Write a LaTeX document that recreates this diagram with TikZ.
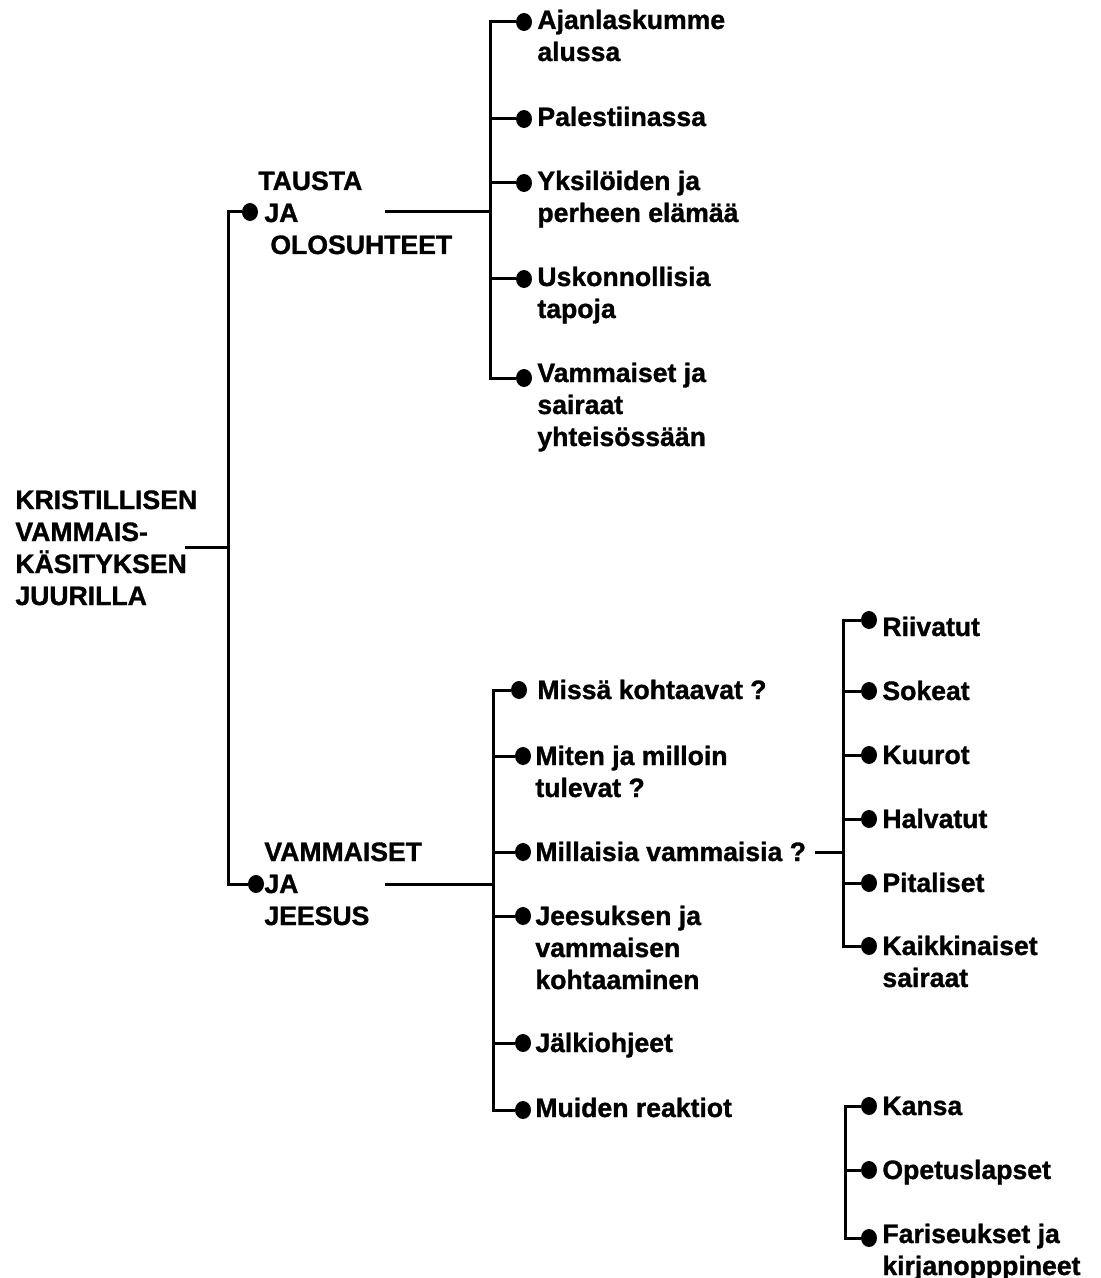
\documentclass[tikz,border=0pt]{standalone}
\usepackage{fontspec}
\setmainfont{Liberation Sans}[BoldFeatures={FakeBold=1.2}]
\usetikzlibrary{shapes.geometric}
\begin{document}
\begin{tikzpicture}[x=0.5pt,y=-0.5pt,
  lbl/.style={font=\bfseries\fontsize{13.3}{16}\selectfont, align=left, anchor=base west, inner sep=0pt},
  dotn/.style={ellipse, fill=black, minimum width=8pt, minimum height=9pt, inner sep=0pt},
  ln/.style={line width=1.5pt}]
\useasboundingbox (0,0) rectangle (1100,1278);

% root (base anchor = baseline of last line)
\node[lbl] (root) at (15,605) {KRISTILLISEN\\VAMMAIS-\\KÄSITYKSEN\\JUURILLA};
\coordinate (rootend) at (185,547);
\coordinate (spmid) at (228,547);
\coordinate (sptop) at (228,212);
\coordinate (spbot) at (228,884);
\draw[ln] (rootend) -- (spmid);

% level 1
\node[dotn] (d1) at (250,212) {};
\node[lbl] (t1) at (258,254) {TAUSTA\\\hspace*{3pt}JA\\\hspace*{6pt}OLOSUHTEET};
\node[dotn] (d2) at (256,884) {};
\node[lbl] (t2) at (264,925) {VAMMAISET\\JA\\JEESUS};
\draw[ln] (d1) -- (sptop) -- (spbot) -- (d2);

% top group
\coordinate (t1end) at (385,212);
\coordinate (ba) at (490,212);
\coordinate (batop) at (490,22);
\coordinate (babot) at (490,378);
\draw[ln] (t1end) -- (ba);
\node[dotn] (a1) at (524,22) {};
\node[lbl] (ta1) at (537,61) {Ajanlaskumme\\alussa};
\node[dotn] (a2) at (524,119) {};
\node[lbl] (ta2) at (537,126) {Palestiinassa};
\node[dotn] (a3) at (524,183) {};
\node[lbl] (ta3) at (537,222) {Yksilöiden ja\\perheen elämää};
\node[dotn] (a4) at (524,279) {};
\node[lbl] (ta4) at (537,318) {Uskonnollisia\\tapoja};
\node[dotn] (a5) at (524,378) {};
\node[lbl] (ta5) at (537,446) {Vammaiset ja\\sairaat\\yhteisössään};
\draw[ln] (a1) -- (batop) -- (babot) -- (a5);
\draw[ln] (490,119) -- (a2);
\draw[ln] (490,183) -- (a3);
\draw[ln] (490,279) -- (a4);

% bottom group
\coordinate (t2end) at (385,884);
\coordinate (bb) at (493,884);
\coordinate (bbtop) at (493,690);
\coordinate (bbbot) at (493,1110);
\draw[ln] (t2end) -- (bb);
\node[dotn] (b1) at (519,690) {};
\node[lbl] (tb1) at (537,699) {Missä kohtaavat ?};
\node[dotn] (b2) at (523,756) {};
\node[lbl] (tb2) at (535,797) {Miten ja milloin\\tulevat ?};
\node[dotn] (b3) at (523,852) {};
\node[lbl] (tb3) at (535,861) {Millaisia vammaisia ?};
\node[dotn] (b4) at (523,916) {};
\node[lbl] (tb4) at (535,989) {Jeesuksen ja\\vammaisen\\kohtaaminen};
\node[dotn] (b5) at (523,1043) {};
\node[lbl] (tb5) at (535,1052) {Jälkiohjeet};
\node[dotn] (b6) at (523,1110) {};
\node[lbl] (tb6) at (535,1117) {Muiden reaktiot};
\draw[ln] (b1) -- (bbtop) -- (bbbot) -- (b6);
\draw[ln] (493,756) -- (b2);
\draw[ln] (493,852) -- (b3);
\draw[ln] (493,916) -- (b4);
\draw[ln] (493,1043) -- (b5);

% right group
\coordinate (tb3end) at (815,852);
\coordinate (bc) at (843,852);
\coordinate (bctop) at (843,620);
\coordinate (bcbot) at (843,946);
\draw[ln] (tb3end) -- (bc);
\node[dotn] (c1) at (869,620) {};
\node[lbl] (tc1) at (882,636) {Riivatut};
\node[dotn] (c2) at (869,691) {};
\node[lbl] (tc2) at (882,700) {Sokeat};
\node[dotn] (c3) at (869,755) {};
\node[lbl] (tc3) at (882,764) {Kuurot};
\node[dotn] (c4) at (869,819) {};
\node[lbl] (tc4) at (882,828) {Halvatut};
\node[dotn] (c5) at (869,883) {};
\node[lbl] (tc5) at (882,892) {Pitaliset};
\node[dotn] (c6) at (869,946) {};
\node[lbl] (tc6) at (882,987) {Kaikkinaiset\\sairaat};
\draw[ln] (c1) -- (bctop) -- (bcbot) -- (c6);
\draw[ln] (843,691) -- (c2);
\draw[ln] (843,755) -- (c3);
\draw[ln] (843,819) -- (c4);
\draw[ln] (843,883) -- (c5);

% lower right group
\coordinate (bdtop) at (845,1106);
\coordinate (bdbot) at (845,1238);
\node[dotn] (e1) at (869,1106) {};
\node[lbl] (te1) at (882,1115) {Kansa};
\node[dotn] (e2) at (869,1170) {};
\node[lbl] (te2) at (882,1179) {Opetuslapset};
\node[dotn] (e3) at (869,1238) {};
\node[lbl] (te3) at (882,1275) {Fariseukset ja\\kirjanopppineet};
\draw[ln] (e1) -- (bdtop) -- (bdbot) -- (e3);
\draw[ln] (845,1170) -- (e2);
\end{tikzpicture}
\end{document}
